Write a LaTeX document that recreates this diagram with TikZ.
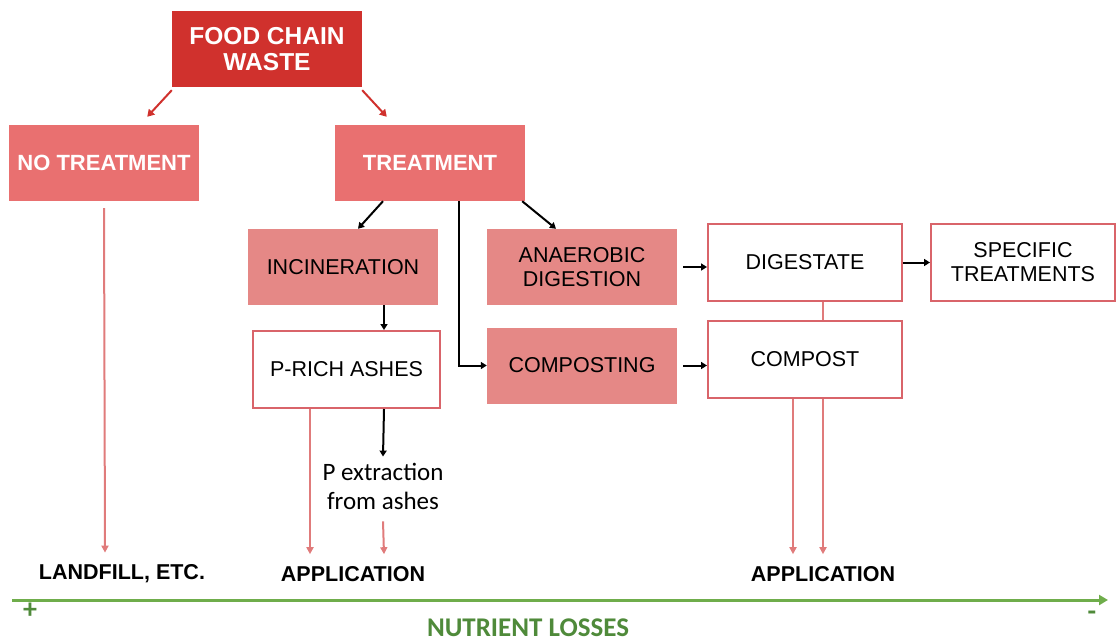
\documentclass[tikz,border=0pt]{standalone}
\usepackage{fontspec}
\setmainfont{Liberation Sans}
\newfontfamily\calfont{Carlito}
\usepackage{xcolor}
\usepackage{tikz}
\usetikzlibrary{arrows.meta, positioning}

\definecolor{wastered}{HTML}{D0312D}
\definecolor{mainpink}{HTML}{E97070}
\definecolor{procpink}{HTML}{E58886}
\definecolor{linepink}{HTML}{D9646A}
\definecolor{flowpink}{HTML}{E07B7B}
\definecolor{axisgreen}{HTML}{6FAD4B}
\definecolor{textgreen}{HTML}{4F8A3A}

\begin{document}
\begin{tikzpicture}[
	x=1pt, y=-1pt,
	every node/.style={text centered, align=center, inner sep=0pt, font=\fontsize{21.5}{24}\selectfont},
	wastebox/.style={fill=wastered, text=white, minimum width=190pt, minimum height=76pt, font=\fontsize{24.5}{26}\selectfont\bfseries},
	mainbox/.style={fill=mainpink, text=white, minimum width=190pt, minimum height=76pt, font=\fontsize{22}{24}\selectfont\bfseries},
	procbox/.style={fill=procpink, minimum width=190pt, minimum height=76pt},
	prodbox/.style={draw=linepink, line width=2pt, fill=white, minimum width=194pt, minimum height=77pt},
	endlabel/.style={font=\fontsize{21.5}{24}\selectfont\bfseries},
	edge/.style={draw, line width=2pt, -{Triangle[length=6pt, width=7pt]}},
	redge/.style={draw=wastered, line width=2pt, -{Triangle[length=7pt, width=8pt]}},
	pedge/.style={draw=flowpink, line width=2pt, -{Triangle[length=7pt, width=7pt]}},
	pline/.style={draw=flowpink, line width=2pt}
	]
	
	\useasboundingbox (0,0) rectangle (1118,642);
	
	% Define nodes
	\node (waste) [wastebox] at (267,49) {FOOD CHAIN\\WASTE};
	\node (notreat) [mainbox] at (104,163) {NO TREATMENT};
	\node (treat) [mainbox] at (430,163) {TREATMENT};
	\node (incin) [procbox] at (343,267) {INCINERATION};
	\node (anaer) [procbox] at (582,267) {ANAEROBIC\\DIGESTION};
	\node (ashes) [prodbox, minimum width=187pt] at (346.5,369.5) {P-RICH ASHES};
	\node (composting) [procbox] at (582,365.5) {COMPOSTING};
	\node (digestate) [prodbox] at (805,262.5) {DIGESTATE};
	\node (compost) [prodbox] at (805,359) {COMPOST};
	\node (specific) [prodbox, minimum width=184pt] at (1023,262.5) {SPECIFIC\\TREATMENTS};
	\node (pext) [font=\calfont\fontsize{25}{29}\selectfont] at (383,486) {P extraction\\from ashes};
	\node (landfill) [endlabel] at (122,574) {LANDFILL, ETC.};
	\node (appL) [endlabel] at (353,574) {APPLICATION};
	\node (appR) [endlabel] at (823,574) {APPLICATION};
	\node (plus) [font=\calfont\fontsize{28}{30}\selectfont\bfseries, text=textgreen] at (30,611) {+};
	\node (minus) [font=\calfont\fontsize{28}{30}\selectfont\bfseries, text=textgreen] at (1092,616) {-};
	\node (losses) [font=\calfont\fontsize{27}{30}\selectfont\bfseries, text=textgreen] at (528,628) {NUTRIENT LOSSES};
	\coordinate (axstart) at (12,600);
	\coordinate (axend) at (1108,600);
	
	% Draw edges
	\path [redge] ([yshift=-3pt]waste.south west) -- ([shift={(-52pt,8pt)}]notreat.north east);
	\path [redge] ([yshift=-3pt]waste.south east) -- ([shift={(52pt,8pt)}]notreat.north east -| treat.north west);
	\path [edge] ([xshift=-47pt]treat.south) -- ([xshift=15pt]incin.north);
	\path [edge] ([xshift=-3pt]treat.south east) -- ([xshift=-26pt]anaer.north);
	\path [edge] ([xshift=29pt]treat.south) |- (composting.west);
	\path [edge] ([xshift=41pt]incin.south) -- ([xshift=37.5pt]ashes.north);
	\path [edge] ([xshift=6pt]anaer.east) -- (anaer.east -| digestate.west);
	\path [edge] ([xshift=6pt]composting.east) -- (composting.east -| compost.west);
	\path [edge] (digestate.east) -- (specific.west);
	\path [edge] ([xshift=37.5pt]ashes.south) -- ([yshift=6pt]pext.north);
	\path [pedge] ([yshift=-7pt]notreat.south) -- ([shift={(-17pt,12pt)}]landfill.north);
	\path [pedge] ([xshift=-36.5pt]ashes.south) -- ([shift={(-43pt,12pt)}]appL.north);
	\path [pedge] ([yshift=-12pt]pext.south) -- ([shift={(31pt,12pt)}]appL.north);
	\path [pline] ([xshift=18pt]digestate.south) -- ([xshift=18pt]compost.north);
	\path [pedge] ([xshift=-12pt]compost.south) -- ([shift={(-30pt,12pt)}]appR.north);
	\path [pedge] ([xshift=18pt]compost.south) -- ([shift={(0pt,12pt)}]appR.north);
	\path [draw=axisgreen, line width=3pt, -{Triangle[length=9pt, width=10pt]}] (axstart) -- (axend);
	
\end{tikzpicture}
\end{document}
